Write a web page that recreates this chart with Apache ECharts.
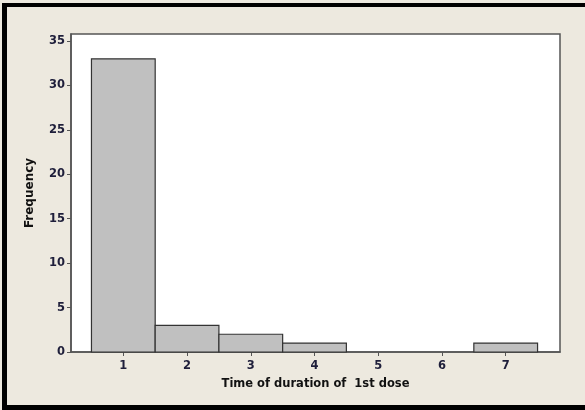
<!DOCTYPE html>
<html><head><meta charset="utf-8">
<script src="https://cdn.jsdelivr.net/npm/echarts@6/dist/echarts.min.js"></script>
<style>html,body{margin:0;padding:0;background:#EDE9DF;}#c{width:585px;height:410px;}</style>
</head><body><div id="c"></div>
<script>
const binCenters = [1, 2, 3, 4, 5, 6, 7];
const frequencies = [33, 3, 2, 1, 0, 0, 1];
const yTicks = [0, 5, 10, 15, 20, 25, 30, 35];
const xTitle = 'Time of duration of  1st dose';
const yTitle = 'Frequency';

const data = binCenters.map((c, i) => [c - 0.5, c + 0.5, frequencies[i]]).filter(d => d[2] > 0);
const chart = echarts.init(document.getElementById('c'));
const font = 'Tahoma, "DejaVu Sans", sans-serif';
chart.setOption({
  backgroundColor: '#EDE9DF',
  animation: false,
  grid: {left: 71, top: 34, right: 25, bottom: 58, show: true, backgroundColor: '#fff', borderColor: '#555', borderWidth: 1.5},
  xAxis: {
    type: 'value', min: 0.179, max: 7.852,
    axisLine: {show: true, lineStyle: {color: '#555', width: 1.5}},
    axisTick: {show: true, length: 4, lineStyle: {color: '#555'}, customValues: binCenters},
    axisLabel: {customValues: binCenters, color: '#1e1e3a', fontSize: 11.5, fontWeight: 'bold', fontFamily: font, margin: 8},
    splitLine: {show: false},
    name: xTitle, nameLocation: 'middle', nameGap: 26,
    nameTextStyle: {fontWeight: 'bold', fontSize: 11.5, fontFamily: font, color: '#111'}
  },
  yAxis: {
    type: 'value', min: 0, max: 35.79,
    axisLine: {show: true, lineStyle: {color: '#555', width: 1.5}},
    axisTick: {show: true, length: 4, lineStyle: {color: '#555'}, customValues: yTicks},
    axisLabel: {customValues: yTicks, color: '#1e1e3a', fontSize: 11.5, fontWeight: 'bold', fontFamily: font, margin: 6},
    splitLine: {show: false},
    name: yTitle, nameLocation: 'middle', nameGap: 35,
    nameTextStyle: {fontWeight: 'bold', fontSize: 12, fontFamily: font, color: '#111'}
  },
  series: [{
    type: 'custom',
    data: data,
    encode: {x: [0, 1], y: 2},
    renderItem: function (params, api) {
      const p0 = api.coord([api.value(0), api.value(2)]);
      const p1 = api.coord([api.value(1), 0]);
      return {type: 'rect', shape: {x: p0[0], y: p0[1], width: p1[0] - p0[0], height: p1[1] - p0[1]},
        style: {fill: '#C0C0C0', stroke: '#333', lineWidth: 1.2}};
    }
  }],
  graphic: [
    {type: 'rect', left: 2, top: 3, shape: {width: 583, height: 4}, style: {fill: '#000'}},
    {type: 'rect', left: 2, top: 3, shape: {width: 5, height: 407}, style: {fill: '#000'}},
    {type: 'rect', left: 2, top: 405, shape: {width: 583, height: 5}, style: {fill: '#000'}}
  ]
});
</script></body></html>
